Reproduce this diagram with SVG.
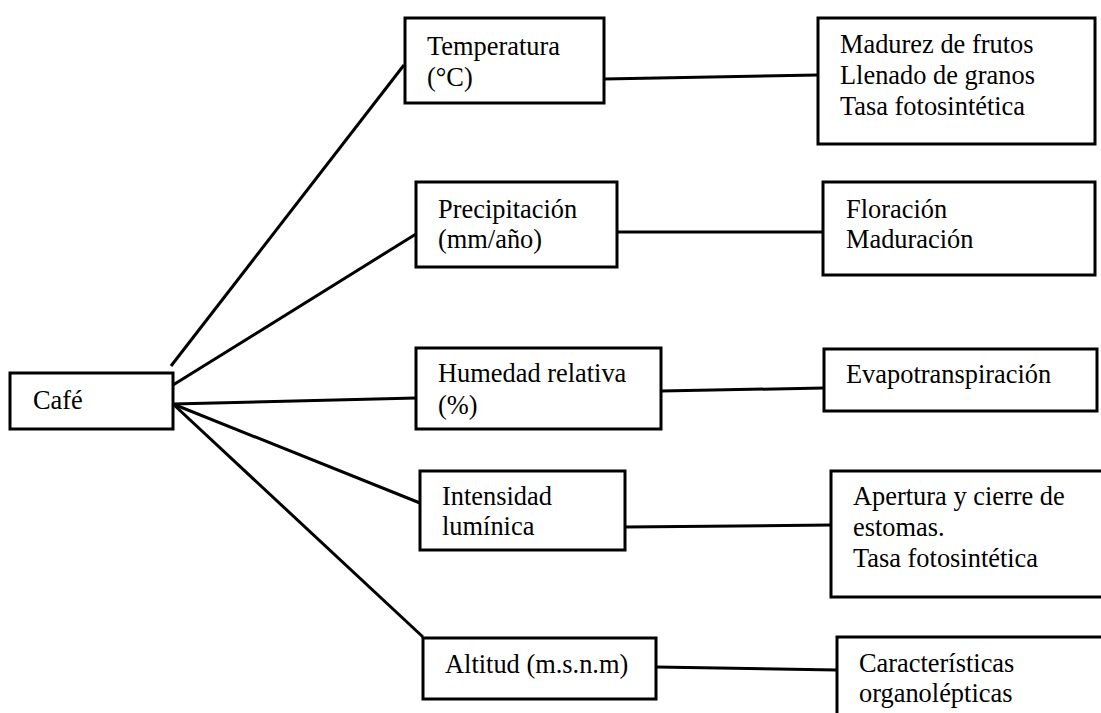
<svg xmlns="http://www.w3.org/2000/svg" width="1101" height="713" viewBox="0 0 1101 713">
<style>
.box{fill:#fff;stroke:#000;stroke-width:3}
.t{font-family:"Liberation Serif","Times New Roman",serif;font-size:26.4px;fill:#000}
.c{stroke:#000;stroke-width:3;fill:none}
</style>
<rect width="1101" height="713" fill="#fff"/>
<g id="connectors">
<line class="c" x1="171" y1="366" x2="404" y2="65"/>
<line class="c" x1="173" y1="385" x2="416" y2="234"/>
<line class="c" x1="173" y1="404" x2="416" y2="398"/>
<line class="c" x1="173" y1="404" x2="420" y2="503"/>
<line class="c" x1="173" y1="404" x2="423" y2="637"/>
<line class="c" x1="604" y1="79" x2="818" y2="75"/>
<line class="c" x1="617" y1="232" x2="823" y2="232"/>
<line class="c" x1="661" y1="391" x2="824" y2="388"/>
<line class="c" x1="625" y1="527" x2="831" y2="525"/>
<line class="c" x1="656" y1="667" x2="837" y2="670"/>
</g>
<g id="cafe">
<rect class="box" x="10" y="373" width="163" height="56"/>
<text class="t" x="33" y="409">Café</text>
</g>
<g id="temperatura">
<rect class="box" x="405" y="18" width="199" height="85"/>
<text class="t" x="427" y="55">Temperatura</text>
<text class="t" x="427" y="86">(°C)</text>
</g>
<g id="precipitacion">
<rect class="box" x="416" y="182" width="201" height="85"/>
<text class="t" x="438" y="218">Precipitación</text>
<text class="t" x="438" y="248">(mm/año)</text>
</g>
<g id="humedad">
<rect class="box" x="416" y="348" width="245" height="81"/>
<text class="t" x="438" y="382">Humedad relativa</text>
<text class="t" x="438" y="414">(%)</text>
</g>
<g id="intensidad">
<rect class="box" x="420" y="471" width="205" height="79"/>
<text class="t" x="442" y="505">Intensidad</text>
<text class="t" x="442" y="535">lumínica</text>
</g>
<g id="altitud">
<rect class="box" x="423" y="638" width="233" height="61"/>
<text class="t" x="445" y="673">Altitud (m.s.n.m)</text>
</g>
<g id="madurez">
<rect class="box" x="818" y="18" width="277" height="126"/>
<text class="t" x="840" y="53">Madurez de frutos</text>
<text class="t" x="840" y="84">Llenado de granos</text>
<text class="t" x="840" y="115">Tasa fotosintética</text>
</g>
<g id="floracion">
<rect class="box" x="823" y="182" width="272" height="93"/>
<text class="t" x="846" y="218">Floración</text>
<text class="t" x="846" y="248">Maduración</text>
</g>
<g id="evapotranspiracion">
<rect class="box" x="824" y="349" width="273" height="62"/>
<text class="t" x="846" y="383">Evapotranspiración</text>
</g>
<g id="apertura">
<rect class="box" x="831" y="471" width="280" height="126"/>
<text class="t" x="853" y="505">Apertura y cierre de</text>
<text class="t" x="853" y="536">estomas.</text>
<text class="t" x="853" y="567">Tasa fotosintética</text>
</g>
<g id="caracteristicas">
<rect class="box" x="837" y="637" width="280" height="100"/>
<text class="t" x="859" y="672">Características</text>
<text class="t" x="859" y="702">organolépticas</text>
</g>
</svg>
